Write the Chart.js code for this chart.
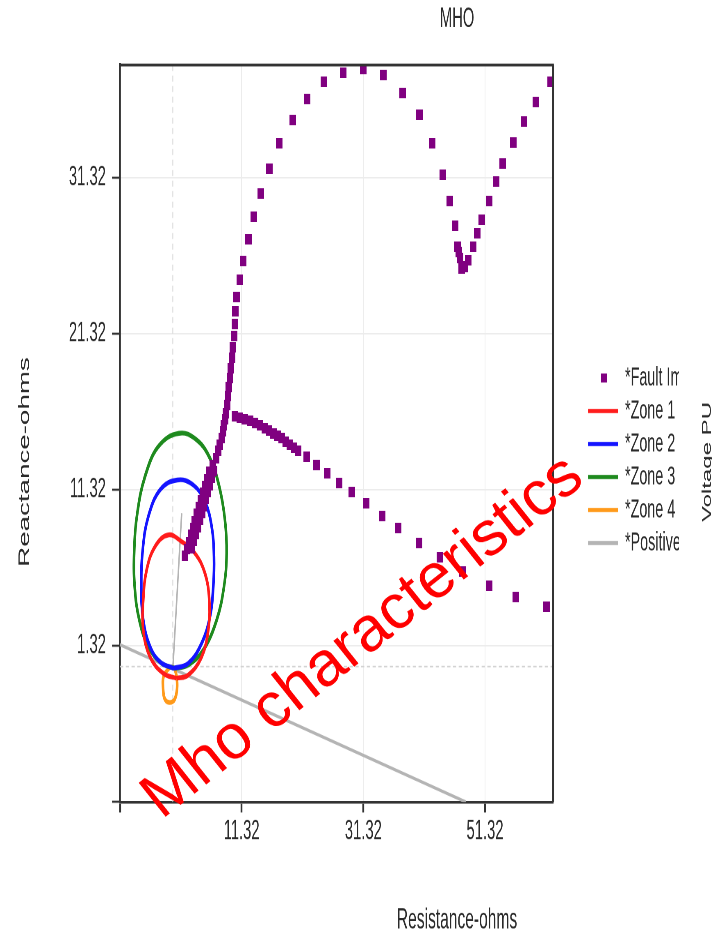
<!DOCTYPE html>
<html>
<head>
<meta charset="utf-8">
<script src="https://cdn.jsdelivr.net/npm/chart.js@4.4.0/dist/chart.umd.min.js"></script>
<style>
  html, body { margin: 0; padding: 0; background: #fff; }
  #page { width: 712px; height: 939px; overflow: hidden; position: relative; }
  /* the source picture is a narrow-font chart stretched tall, so the canvas is squeezed the same way */
  #wrap { width: 868px; height: 626px; transform: scale(0.82, 1.5); transform-origin: 0 0; }
</style>
</head>
<body>
<div id="page"><div id="wrap"><canvas id="mho" width="868" height="626"></canvas></div></div>
<script>
const SX = 0.82, SY = 1.5;
const FONT = "'Liberation Sans', Arial, sans-serif";

// axes
const xRange = [-8.68, 62.5];
const yRange = [-8.68, 38.56];
const xTickValues = [-8.68, 11.32, 31.32, 51.32];
const xTickLabels = ['', '11.32', '31.32', '51.32'];
const yTickValues = [-8.68, 1.32, 11.32, 21.32, 31.32];
const yTickLabels = ['', '1.32', '11.32', '21.32', '31.32'];

const seriesLabels = ['*Fault Impedance', '*Zone 1', '*Zone 2', '*Zone 3', '*Zone 4', '*Positive Sequence'];
const seriesColors = ['#800080', '#ff1c1c', '#1414ff', '#1e8a1e', '#ff9a1a', '#b4b4b4'];

// [R, X] in ohms
const faultImpedance = [
  [2.00,7.09],[2.33,7.54],[2.66,7.99],[2.99,8.44],[3.31,8.88],[3.64,9.33],[3.97,9.78],[4.30,10.23],
  [4.63,10.68],[4.96,11.13],[5.29,11.58],[5.62,12.03],[5.94,12.47],
  [3.15,7.60],[3.48,8.05],[3.81,8.50],[4.13,8.95],[4.46,9.40],[4.79,9.85],[5.12,10.29],[5.45,10.74],
  [5.78,11.19],[6.11,11.64],[6.44,12.09],[6.77,12.54],
  [6.60,12.92],[7.09,13.37],[7.42,13.82],[7.75,14.20],[8.08,14.65],[8.24,15.10],[8.41,15.49],[8.57,15.87],[8.74,16.26],
  [8.90,16.77],[9.07,17.35],[9.23,17.92],[9.40,18.50],[9.56,19.14],[9.73,19.78],[9.89,20.49],[10.05,21.19],
  [10.22,21.96],[10.30,22.79],
  [10.50,23.71],[11.04,24.78],[11.58,26.02],[12.41,27.39],[13.34,28.84],[14.49,30.34],[15.86,31.90],[17.50,33.54],
  [19.70,35.04],[22.10,36.36],[24.85,37.49],[28.02,38.07],[31.31,38.29],[34.60,37.92],[37.79,36.75],[40.52,35.36],
  [42.65,33.54],[44.36,31.51],[45.56,29.86],[46.38,28.24],[46.83,26.92],[47.04,26.58],[47.21,26.17],[47.49,25.53],
  [47.72,25.68],[48.03,25.63],[48.57,26.06],[49.39,26.92],[50.05,27.78],[50.77,28.63],[51.97,29.86],[53.12,31.08],
  [54.23,32.26],[55.97,33.58],[57.73,34.93],[59.70,36.21],[62.12,37.49],
  [10.22,16.06],[11.04,15.97],[11.86,15.85],[12.69,15.74],[13.51,15.60],[14.33,15.45],[15.15,15.28],[15.81,15.13],
  [16.52,14.95],[17.21,14.78],[17.90,14.63],[18.60,14.43],[19.26,14.20],[19.92,14.01],[20.62,13.82],[22.01,13.45],
  [23.65,12.92],[25.39,12.39],[27.36,11.79],[29.40,11.21],[31.75,10.47],[34.43,9.65],[37.06,8.90],[40.47,7.90],
  [43.92,7.01],[47.59,6.08],[51.97,5.17],[56.41,4.48],[61.46,3.84]
];
const zone1 = [
  [0.63,-0.75],[-1.57,-0.43],[-3.75,0.63],[-4.86,2.35],[-4.86,4.27],[-4.30,6.19],[-2.93,7.69],[-0.75,8.44],
  [1.46,8.01],[3.64,7.26],[5.29,5.98],[5.99,4.27],[5.83,2.35],[4.74,0.63],[2.54,-0.54],[0.63,-0.75]
];
const zone2 = [
  [0.08,-0.11],[-2.11,0.31],[-3.75,1.28],[-4.86,2.99],[-5.18,5.12],[-4.95,7.47],[-4.03,9.61],[-2.11,11.32],
  [0.73,11.96],[3.36,11.64],[5.29,10.57],[6.39,8.97],[6.77,7.04],[6.65,5.12],[6.11,3.20],[4.74,1.49],[2.54,0.21],[0.08,-0.11]
];
const zone3 = [
  [0.36,-0.11],[-1.83,0.21],[-4.03,1.28],[-5.51,2.99],[-6.27,5.12],[-6.34,7.47],[-5.84,9.83],[-4.58,12.17],
  [-2.39,14.10],[1.01,14.95],[3.92,14.53],[6.11,13.35],[7.64,11.53],[8.57,9.40],[8.85,7.26],[8.41,5.12],
  [7.21,2.99],[5.01,1.06],[2.54,0.10],[0.36,-0.11]
];
const zone4 = [
  [-0.5,-0.05],[-1.5,-0.6],[-1.6,-1.4],[-1.3,-2.1],[-0.5,-2.3],[0.3,-2.1],[0.7,-1.4],[0.6,-0.6],[0.2,-0.1],[-0.5,-0.05]
];
const positiveSequence = [[1.46,9.83],[0,-0.14],[-8.68,1.40],[48.2,-8.68]];

const toXY = pts => pts.map(([x, y]) => ({ x, y }));

// purple marker: square on the page once the canvas is squeezed
const marker = document.createElement('canvas');
marker.width = 8; marker.height = 7;
const mctx = marker.getContext('2d');
mctx.fillStyle = seriesColors[0];
mctx.fillRect(0, 0, 8, 7);

function zoneLine(i, pts) {
  return {
    label: seriesLabels[i],
    data: toXY(pts),
    showLine: true,
    borderColor: seriesColors[i],
    backgroundColor: seriesColors[i],
    borderWidth: 3.2,
    pointRadius: 0,
    tension: 0.4
  };
}

// texts, legend, frame and the red stamp
const decorations = {
  id: 'decorations',
  beforeDatasetsDraw(chart) {
    const { ctx, chartArea: a, scales } = chart;
    const x0 = scales.x.getPixelForValue(0);
    const y0 = scales.y.getPixelForValue(0);
    ctx.save();
    ctx.strokeStyle = '#d2d2d2';
    ctx.lineWidth = 1;
    ctx.setLineDash([4, 3]);
    ctx.beginPath();
    ctx.moveTo(x0, a.top); ctx.lineTo(x0, a.bottom);
    ctx.moveTo(a.left, y0); ctx.lineTo(a.right, y0);
    ctx.stroke();
    ctx.restore();
  },
  afterDraw(chart) {
    const { ctx, chartArea: a } = chart;
    ctx.save();
    // top and right frame
    ctx.strokeStyle = '#333';
    ctx.lineWidth = 1.8;
    ctx.beginPath();
    ctx.moveTo(a.left, a.top); ctx.lineTo(a.right + 1, a.top);
    ctx.stroke();
    ctx.lineWidth = 2.4;
    ctx.beginPath();
    ctx.moveTo(a.right, a.top); ctx.lineTo(a.right, a.bottom);
    ctx.stroke();

    ctx.fillStyle = '#2a2a2a';
    ctx.textAlign = 'center';
    ctx.textBaseline = 'middle';
    ctx.font = '18px ' + FONT;
    ctx.fillText('MHO', 457 / SX, 13);
    ctx.font = '19px ' + FONT;
    ctx.fillText('Resistance-ohms', 457 / SX, 614);

    ctx.save();
    ctx.font = '18.5px ' + FONT;
    ctx.translate(25 / SX, 308);
    ctx.rotate(-Math.PI / 2);
    ctx.fillText('Reactance-ohms', 0, 0);
    ctx.restore();

    ctx.save();
    ctx.font = '16px ' + FONT;
    ctx.textBaseline = 'alphabetic';
    ctx.translate(711 / SX, 308);
    ctx.rotate(-Math.PI / 2);
    ctx.fillText('Voltage PU', 0, 0);
    ctx.restore();

    // legend, cut off on its right side as in the source
    ctx.save();
    ctx.beginPath();
    ctx.rect(0, 0, 679 / SX, 626);
    ctx.clip();
    ctx.textAlign = 'left';
    ctx.font = '17.5px ' + FONT;
    chart.data.datasets.forEach((ds, i) => {
      const y = 252 + i * 22;
      ctx.fillStyle = ds.borderColor;
      if (ds.showLine) {
        ctx.fillRect(588 / SX, y - 1.4, 30 / SX, 2.8);
      } else {
        ctx.fillRect(601 / SX, y - 3, 6 / SX, 6);
      }
      ctx.fillStyle = '#2a2a2a';
      ctx.fillText(ds.label, 625 / SX, y);
    });
    ctx.restore();

    // stamp, drawn in page pixels
    ctx.scale(1 / SX, 1 / SY);
    ctx.translate(374, 651);
    ctx.rotate(-38.5 * Math.PI / 180);
    ctx.fillStyle = '#ff0000';
    ctx.textAlign = 'center';
    ctx.textBaseline = 'alphabetic';
    ctx.font = '63px ' + FONT;
    ctx.fillText('Mho characteristics', 0, 0);
    ctx.restore();
  }
};

const chart = new Chart(document.getElementById('mho'), {
  type: 'scatter',
  data: {
    datasets: [
      {
        label: seriesLabels[0],
        data: toXY(faultImpedance),
        borderColor: seriesColors[0],
        backgroundColor: seriesColors[0],
        pointStyle: marker,
        pointRadius: 4,
        borderWidth: 0
      },
      zoneLine(1, zone1),
      zoneLine(2, zone2),
      zoneLine(3, zone3),
      zoneLine(4, zone4),
      Object.assign(zoneLine(5, positiveSequence), {
        tension: 0,
        segment: { borderWidth: c => (c.p0DataIndex === 0 ? 1.8 : 2.2) }
      })
    ]
  },
  options: {
    responsive: false,
    animation: false,
    devicePixelRatio: 2,
    layout: { padding: { left: 0, right: 868 - 553 / SX, top: 43.33, bottom: 0 } },
    plugins: { legend: { display: false }, tooltip: { enabled: false } },
    scales: {
      x: {
        type: 'linear', min: xRange[0], max: xRange[1],
        afterBuildTicks: s => { s.ticks = xTickValues.map(v => ({ value: v })); },
        afterFit: s => { s.height = 626 - 534.67; },
        ticks: {
          callback: (v, i) => xTickLabels[i],
          font: { family: FONT, size: 18 }, color: '#2a2a2a', padding: 2,
          maxRotation: 0, autoSkip: false
        },
        grid: {
          color: c => (c.tick && c.tick.value === xTickValues[0] ? 'rgba(0,0,0,0)' : '#ececec'),
          tickColor: '#333', tickLength: 7, tickWidth: 2.2
        },
        border: { color: '#333', width: 1.8 }
      },
      y: {
        type: 'linear', min: yRange[0], max: yRange[1],
        afterBuildTicks: s => { s.ticks = yTickValues.map(v => ({ value: v })); },
        afterFit: s => { s.width = 120 / SX; },
        ticks: {
          callback: (v, i) => yTickLabels[i],
          font: { family: FONT, size: 18 }, color: '#2a2a2a', padding: 7.5, autoSkip: false
        },
        grid: {
          color: c => (c.tick && c.tick.value === yTickValues[0] ? 'rgba(0,0,0,0)' : '#ececec'),
          tickColor: '#333', tickLength: 9.75, tickWidth: 1.4
        },
        border: { color: '#333', width: 2.4 }
      }
    }
  },
  plugins: [decorations]
});
</script>
</body>
</html>
